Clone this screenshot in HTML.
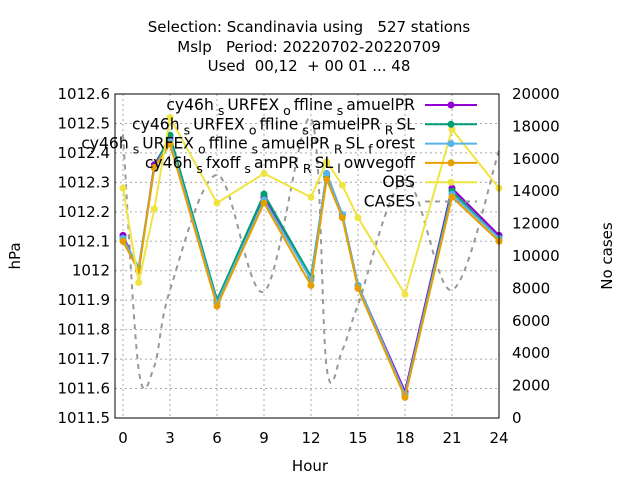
<!DOCTYPE html>
<html><head><meta charset="utf-8"><style>
body{margin:0;background:#fff}
svg{font-family:"DejaVu Sans","Liberation Sans",sans-serif;font-size:15px}
</style></head><body>
<svg width="640" height="480" id="c">
<text x="309" y="32" text-anchor="middle" style="white-space:pre">Selection: Scandinavia using   527 stations</text>
<text x="309" y="52" text-anchor="middle" style="white-space:pre">Mslp   Period: 20220702-20220709</text>
<text x="309" y="71" text-anchor="middle" style="white-space:pre">Used  00,12  + 00 01 ... 48</text>
<text x="20" y="256" text-anchor="middle" transform="rotate(-90 20 256)">hPa</text>
<text x="612" y="256" text-anchor="middle" transform="rotate(-90 612 256)">No cases</text>
<text x="310" y="471" text-anchor="middle">Hour</text>
<g id="grid"></g><g id="axes"></g><g id="series"></g><g id="legend"></g>
<rect x="115" y="94" width="384" height="324" fill="none" stroke="#000"/>
</svg>
<script>
const hours=[0,1,2,3,6,9,12,13,14,15,18,21,24];
const s1=[1012.12,1012.0,1012.36,1012.45,1011.9,1012.25,1011.97,1012.33,1012.19,1011.95,1011.59,1012.28,1012.12];
const s2=[1012.11,1012.01,1012.35,1012.46,1011.9,1012.26,1011.98,1012.32,1012.19,1011.95,1011.58,1012.27,1012.11];
const s3=[1012.11,1012.01,1012.35,1012.44,1011.89,1012.24,1011.97,1012.33,1012.19,1011.95,1011.58,1012.26,1012.11];
const s4=[1012.1,1012.0,1012.35,1012.43,1011.88,1012.23,1011.95,1012.31,1012.18,1011.94,1011.57,1012.25,1012.1];
const obs=[1012.28,1011.96,1012.21,1012.52,1012.23,1012.33,1012.25,1012.37,1012.29,1012.18,1011.92,1012.48,1012.28];
const cases=[17500,3000,3200,7900,15000,7800,18500,3100,4200,7000,14700,7900,16500];
const yTicks=[1011.5,1011.6,1011.7,1011.8,1011.9,1012,1012.1,1012.2,1012.3,1012.4,1012.5,1012.6];
const y2Ticks=[0,2000,4000,6000,8000,10000,12000,14000,16000,18000,20000];
const xTicks=[0,3,6,9,12,15,18,21,24];
const colors=["#9400d3","#009e73","#56b4e9","#e69f00","#f0e442"];
const X=h=>123+h*(499-123)/24, Y=v=>94+(1012.6-v)*324/1.1, Y2=v=>418-v*324/20000;
const NS="http://www.w3.org/2000/svg";
function mk(t,p,a){const e=document.createElementNS(NS,t);for(const k in a)e.setAttribute(k,a[k]);p.appendChild(e);return e;}
const G=document.getElementById('grid'),A=document.getElementById('axes'),S=document.getElementById('series'),L=document.getElementById('legend');
yTicks.forEach(v=>{const y=Y(v);
 const g=mk('line',G,{x1:115,x2:499,y1:y,y2:y,stroke:'#aaa','stroke-dasharray':'2,3'});
 
 const t=mk('text',A,{x:110,y:y+5,'text-anchor':'end'});t.textContent=String(v);
 });
y2Ticks.forEach(v=>{const y=Y2(v);
 const t=mk('text',A,{x:512,y:y+5});t.textContent=String(v);
 });
xTicks.forEach(h=>{const x=X(h);
 const g=mk('line',G,{x1:x,x2:x,y1:94,y2:418,stroke:'#aaa','stroke-dasharray':'2,3'});
 
 const t=mk('text',A,{x:x,y:443,'text-anchor':'middle'});t.textContent=String(h);
 });
let pts=hours.map((h,i)=>[X(h),Y2(cases[i])]);
let d='M'+pts[0].join(',');
for(let i=0;i<pts.length-1;i++){const p0=pts[Math.max(0,i-1)],p1=pts[i],p2=pts[i+1],p3=pts[Math.min(pts.length-1,i+2)];
 d+=` C${p1[0]+(p2[0]-p0[0])/6},${p1[1]+(p2[1]-p0[1])/6} ${p2[0]-(p3[0]-p1[0])/6},${p2[1]-(p3[1]-p1[1])/6} ${p2[0]},${p2[1]}`;}
const cp=mk('path',S,{d:d,fill:'none',stroke:'#999','stroke-width':2,'stroke-dasharray':'5,5'});

[s1,s2,s3,s4,obs].forEach((s,k)=>{
 const pl=mk('polyline',S,{points:hours.map((h,i)=>X(h)+','+Y(s[i])).join(' '),fill:'none',stroke:colors[k],'stroke-width':2});
 
 hours.forEach((h,i)=>{const c=mk('circle',S,{cx:X(h),cy:Y(s[i]),r:3.5,fill:colors[k]});
  });
});
const legTxt=[["cy46h",["s","URFEX"],["o","ffline"],["s","amuelPR"]],["cy46h",["s","URFEX"],["o","ffline"],["s","amuelPR"],["R","SL"]],["cy46h",["s","URFEX"],["o","ffline"],["s","amuelPR"],["R","SL"],["f","orest"]],["cy46h",["s","fxoff"],["s","amPR"],["R","SL"],["l","owvegoff"]],["OBS"],["CASES"]];
legTxt.forEach((parts,k)=>{const y=110+k*19.3;
 const t=mk('text',L,{x:415,y:y,'text-anchor':'end','font-size':15.6});
 
 parts.forEach(p=>{if(typeof p==='string'){const sp=mk('tspan',t,{});sp.textContent=p;}
  else{const a=mk('tspan',t,{dy:5,dx:4,'font-size':12.5});a.textContent=p[0];const b=mk('tspan',t,{dy:-5,dx:3});b.textContent=p[1];}});
 if(k<5){const l=mk('line',L,{x1:425,x2:477,y1:y-5,y2:y-5,stroke:colors[k],'stroke-width':2});
  
  const c=mk('circle',L,{cx:451,cy:y-5,r:3.5,fill:colors[k]});
  }
 else{const l=mk('line',L,{x1:425,x2:477,y1:y-5,y2:y-5,stroke:'#999','stroke-width':2,'stroke-dasharray':'5,5'});
  }
});
</script>
</body></html>
